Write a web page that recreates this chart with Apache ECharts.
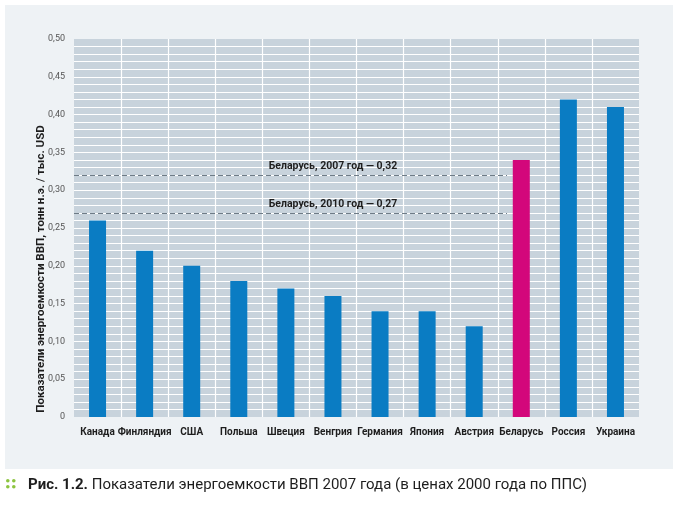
<!DOCTYPE html>
<html><head><meta charset="utf-8">
<script src="https://cdn.jsdelivr.net/npm/echarts@6/dist/echarts.min.js"></script>
<style>
html,body{margin:0;padding:0;background:#fff;}
#c{width:678px;height:506px;}
</style></head>
<body><div id="c"></div>
<script>
var categories = ['Канада','Финляндия','США','Польша','Швеция','Венгрия','Германия','Япония','Австрия','Беларусь','Россия','Украина'];
var values = [0.26,0.22,0.20,0.18,0.17,0.16,0.14,0.14,0.12,0.34,0.42,0.41];
var highlightCategory = 'Беларусь';
var refLines = [
  {value:0.32, label:'Беларусь, 2007 год — 0,32'},
  {value:0.27, label:'Беларусь, 2010 год — 0,27'}
];
var refLabelCategory = 'Венгрия';
var yAxisName = 'Показатели энергоемкости ВВП, тонн н.э. / тыс. USD';
var captionBold = 'Рис. 1.2.';
var captionText = ' Показатели энергоемкости ВВП 2007 года (в ценах 2000 года по ППС)';

var FONT = 'Roboto,"Liberation Sans Narrow","DejaVu Sans Condensed",sans-serif';
var BLUE = '#0a7cc3', MAGENTA = '#d3077b';

var chart = echarts.init(document.getElementById('c'), null, {renderer:'canvas'});
var barData = values.map(function(v,i){
  return {value:v, itemStyle:{color: categories[i]===highlightCategory ? MAGENTA : BLUE}};
});
var mlData = refLines.map(function(r){
  return [{yAxis:r.value, x:74},{yAxis:r.value, x:507}];
});
var mpData = refLines.map(function(r){
  return {coord:[refLabelCategory, r.value], value:r.label};
});

chart.setOption({
  backgroundColor:'#ffffff',
  animation:false,
  textStyle:{fontFamily:FONT},
  graphic:[
    {type:'rect', z:-10, shape:{x:5,y:5,width:668,height:464}, style:{fill:'#eef2f5'}},
    {type:'group', left:6, top:479, children:[
      {type:'circle', shape:{cx:2,cy:4,r:1.8}, style:{fill:'#8cc43f'}},
      {type:'circle', shape:{cx:8,cy:4,r:1.8}, style:{fill:'#8cc43f'}},
      {type:'circle', shape:{cx:2,cy:10,r:1.8}, style:{fill:'#8cc43f'}},
      {type:'circle', shape:{cx:8,cy:10,r:1.8}, style:{fill:'#8cc43f'}}
    ]},
    {type:'text', left:28, top:478, style:{
      text:'{b|'+captionBold+'}{r|'+captionText+'}',
      rich:{
        b:{fontFamily:FONT, fontSize:15, fontWeight:'bold', fill:'#1e1e1e'},
        r:{fontFamily:FONT, fontSize:15, fill:'#1e1e1e'}
      }
    }}
  ],
  grid:{left:74, right:39, top:39, bottom:89, show:true, backgroundColor:'#c8d3dc', borderWidth:0},
  xAxis:{
    type:'category', data:categories,
    axisLine:{show:false}, axisTick:{show:false},
    axisLabel:{interval:0, margin:10, fontSize:10, fontWeight:'bold', color:'#1e1e1e', fontFamily:FONT},
    splitLine:{show:true, showMinLine:false, showMaxLine:false, interval:0, lineStyle:{color:'#ffffff', width:1.2}}
  },
  yAxis:{
    type:'value', min:0, max:0.5, interval:0.05,
    name:yAxisName, nameLocation:'middle', nameGap:27, nameRotate:90, nameMoveOverlap:false,
    nameTextStyle:{fontSize:11.5, fontWeight:'bold', color:'#1e1e1e', fontFamily:FONT, padding:[0,82,0,0]},
    axisLine:{show:false}, axisTick:{show:false},
    axisLabel:{margin:9, fontSize:9, color:'#555', fontFamily:FONT,
      formatter:function(v){ return v===0 ? '0' : v.toFixed(2).replace('.',','); }},
    splitLine:{show:true, showMinLine:false, showMaxLine:false, lineStyle:{color:'#ffffff', width:1.2}},
    minorTick:{show:false, splitNumber:5},
    minorSplitLine:{show:true, lineStyle:{color:'#ffffff', width:1.2}}
  },
  series:[{
    type:'bar', data:barData, barWidth:17,
    markLine:{
      silent:true, symbol:'none', z:3,
      lineStyle:{color:'#6e7b86', type:[5,3], width:1},
      label:{show:false},
      data:mlData
    },
    markPoint:{
      silent:true, symbol:'circle', symbolSize:0,
      label:{show:true, position:'top', distance:3, formatter:function(p){return p.value;},
        fontFamily:FONT, fontSize:10.5, fontWeight:'bold', color:'#1e1e1e'},
      data:mpData
    }
  }]
});
</script></body></html>
